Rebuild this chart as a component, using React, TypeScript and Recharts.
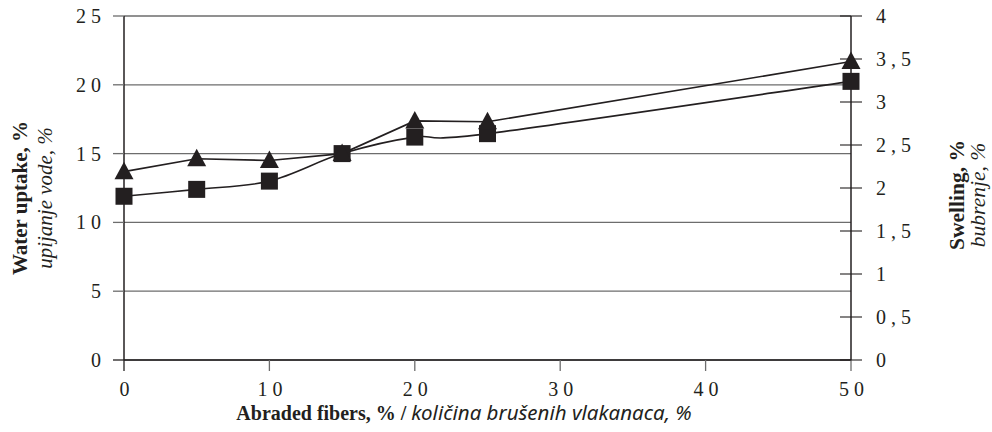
import { LineChart, Line, XAxis, YAxis, CartesianGrid } from 'recharts'

const FIBERS = [0, 5, 10, 15, 20, 25, 50]
const WATER_UPTAKE = [11.9, 12.4, 13.0, 15.0, 16.2, 16.45, 20.25]
const SWELLING = [2.19, 2.34, 2.32, 2.4, 2.78, 2.77, 3.47]
const X_TICKS = [0, 10, 20, 30, 40, 50]
const LEFT_TICKS = [0, 5, 10, 15, 20, 25]
const RIGHT_TICKS = [0, 0.5, 1, 1.5, 2, 2.5, 3, 3.5, 4]

const data = FIBERS.map((f, i) => ({ fibers: f, water: WATER_UPTAKE[i], swelling: SWELLING[i] }))

const INK = '#231f20'
const GRID = '#6d6d6d'
const SERIF = '"Liberation Serif", serif'
const TICK_FONT = { fontFamily: SERIF, fontSize: 20, fill: INK, letterSpacing: 5 }

const fmt = (v: number) => String(v).replace('.', ',')

// excel-style smoothing: catmull-rom segments as cubic beziers
function excelSmooth(context: any) {
  let pts: number[][] = []
  return {
    areaStart() {},
    areaEnd() {},
    lineStart() {
      pts = []
    },
    point(x: number, y: number) {
      pts.push([+x, +y])
    },
    lineEnd() {
      if (!pts.length) return
      context.moveTo(pts[0][0], pts[0][1])
      for (let i = 0; i < pts.length - 1; i++) {
        const p0 = pts[i - 1] ?? pts[i]
        const p1 = pts[i]
        const p2 = pts[i + 1]
        const p3 = pts[i + 2] ?? p2
        context.bezierCurveTo(
          p1[0] + (p2[0] - p0[0]) / 6,
          p1[1] + (p2[1] - p0[1]) / 6,
          p2[0] - (p3[0] - p1[0]) / 6,
          p2[1] - (p3[1] - p1[1]) / 6,
          p2[0],
          p2[1]
        )
      }
    },
  }
}

function LeftTick(props: any) {
  const { x, y, payload } = props
  return (
    <g>
      <line x1={x - 11} x2={x} y1={y} y2={y} stroke={payload.value === 0 ? INK : GRID} strokeWidth={1.3} />
      <text x={x - 18} y={y} dy={7} textAnchor="end" {...TICK_FONT}>{fmt(payload.value)}</text>
    </g>
  )
}

function RightTick(props: any) {
  const { x, y, payload } = props
  return (
    <g>
      <line x1={x - 11} x2={x + 11} y1={y} y2={y} stroke={INK} strokeWidth={1.1} />
      <text x={x + 25} y={y} dy={7} textAnchor="start" {...TICK_FONT}>{fmt(payload.value)}</text>
    </g>
  )
}

function BottomTick(props: any) {
  const { x, y, payload } = props
  return (
    <g>
      <line x1={x} x2={x} y1={y} y2={y + 11} stroke={payload.value === 0 ? INK : GRID} strokeWidth={1.3} />
      <text x={x + 3} y={y + 36} textAnchor="middle" {...TICK_FONT}>{payload.value}</text>
    </g>
  )
}

function Square(props: any) {
  const { cx, cy } = props
  if (cx == null || cy == null) return null
  return <rect x={cx - 8.5} y={cy - 8.5} width={17} height={17} fill={INK} />
}

function Triangle(props: any) {
  const { cx, cy } = props
  if (cx == null || cy == null) return null
  return <polygon points={`${cx},${cy - 10} ${cx + 9.5},${cy + 7.5} ${cx - 9.5},${cy + 7.5}`} fill={INK} />
}

export default function App() {
  return (
    <div style={{ position: 'absolute', left: 0, top: 0, background: '#fff' }}>
      <LineChart width={992} height={432} data={data} margin={{ top: 16, right: 0, bottom: 0, left: 0 }}>
        <CartesianGrid yAxisId="left" vertical={false} stroke={GRID} strokeWidth={1.3} />
        <XAxis
          dataKey="fibers"
          type="number"
          domain={[0, 50]}
          ticks={X_TICKS}
          height={72}
          tickSize={0}
          tickMargin={0}
          stroke={INK}
          strokeWidth={1.5}
          tick={<BottomTick />}
          label={{
            content: () => (
              <text x={464} y={420} textAnchor="middle" fill={INK}>
                <tspan fontFamily={SERIF} fontWeight="bold" fontSize={20}>Abraded fibers, % / </tspan>
                <tspan fontFamily='"Noto Sans", sans-serif' fontStyle="italic" fontSize={20.5}>količina brušenih vlakanaca, %</tspan>
              </text>
            ),
          }}
        />
        <YAxis
          yAxisId="left"
          domain={[0, 25]}
          ticks={LEFT_TICKS}
          width={124}
          tickSize={0}
          tickMargin={0}
          stroke={INK}
          strokeWidth={1.5}
          tick={<LeftTick />}
          label={{
            content: () => (
              <g fill={INK} fontFamily={SERIF} fontSize={21}>
                <text transform="translate(27,198) rotate(-90)" textAnchor="middle" fontWeight="bold">Water uptake, %</text>
                <text transform="translate(52,198) rotate(-90)" textAnchor="middle" fontStyle="italic">upijanje vode, %</text>
              </g>
            ),
          }}
        />
        <YAxis
          yAxisId="right"
          orientation="right"
          domain={[0, 4]}
          ticks={RIGHT_TICKS}
          width={141}
          tickSize={0}
          tickMargin={0}
          stroke={INK}
          strokeWidth={1.5}
          tick={<RightTick />}
          label={{
            content: () => (
              <g fill={INK} fontFamily={SERIF} fontSize={21.5}>
                <text transform="translate(964,195) rotate(-90)" textAnchor="middle" fontWeight="bold">Swelling, %</text>
                <text transform="translate(985,195) rotate(-90)" textAnchor="middle" fontStyle="italic">bubrenje, %</text>
              </g>
            ),
          }}
        />
        <Line
          yAxisId="left"
          type={excelSmooth as any}
          dataKey="water"
          stroke={INK}
          strokeWidth={1.6}
          dot={<Square />}
          activeDot={false}
          isAnimationActive={false}
        />
        <Line
          yAxisId="right"
          type="linear"
          dataKey="swelling"
          stroke={INK}
          strokeWidth={1.6}
          dot={<Triangle />}
          activeDot={false}
          isAnimationActive={false}
        />
      </LineChart>
    </div>
  )
}
